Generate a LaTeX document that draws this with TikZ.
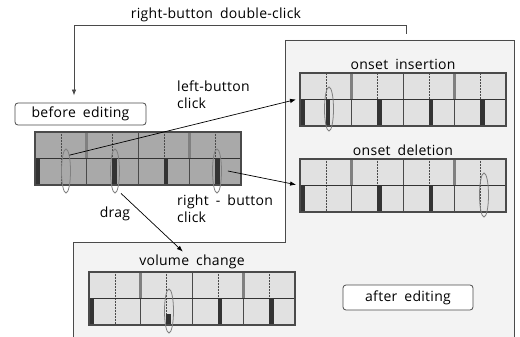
\documentclass[tikz,border=0pt]{standalone}
\usepackage{fontspec}
\setmainfont{Open Sans}[WordSpace=1.8,LetterSpace=2]
\usetikzlibrary{positioning,shapes.geometric,arrows.meta}

\definecolor{afterbg}{HTML}{F3F3F3}
\definecolor{cellold}{HTML}{A9A9A9}
\definecolor{cellnew}{HTML}{E1E1E1}
\definecolor{edge}{HTML}{4A4A4A}

\tikzset{
  lbl/.style={font=\fontsize{14}{17}\selectfont, inner sep=1pt},
  tag/.style={lbl, draw=edge, fill=white, rounded corners=3pt, line width=0.8pt},
  strip/.style={minimum width=206pt, minimum height=53pt, inner sep=0pt, outer sep=0pt, anchor=north west},
  ring/.style={ellipse, draw=gray, line width=0.8pt, minimum width=9pt, minimum height=44pt, inner sep=0pt},
  arr/.style={-{Latex[length=6pt,width=4.5pt]}, line width=0.7pt},
}

% one strip of eight cells, #4 = onset/height list
\newcommand{\beatstrip}[4]{
  \node[strip, fill=#3] (#1) at (#2) {};
  \begin{scope}[shift={(#1.north west)}]
    \foreach \k in {1,3,5,7}
      \draw[edge, densely dotted, line width=0.5pt] (\k*25.75,0) -- (\k*25.75,53);
    \foreach \k in {2,6}
      \fill[gray] (\k*25.75-1.8,0) rectangle (\k*25.75+1.8,26.5);
    \foreach \k in {2,4,6}
      \draw[edge, line width=0.6pt] (\k*25.75,26.5) -- (\k*25.75,53);
    \draw[edge, line width=0.6pt] (4*25.75,0) -- (4*25.75,26.5);
    \draw[black!80, line width=0.8pt] (0,26.5) -- (206,26.5);
    \foreach \k/\h in {#4}
      \fill[black!80] (\k*25.75,53-\h*26.5) rectangle (\k*25.75+4.5,53);
    \draw[edge, line width=1.4pt] (0,0) rectangle (206,53);
  \end{scope}
}

\begin{document}
\begin{tikzpicture}[x=1pt, y=-1pt]
\useasboundingbox (0,0) rectangle (520,337);

% after editing area
\fill[afterbg] (285,40) -- (514,40) -- (514,340) -- (73,340) -- (73,242) -- (285,242) -- cycle;
\draw[edge, line width=0.8pt] (73,340) -- (73,242) -- (285,242) -- (285,40) -- (514,40) -- (514,340);

\beatstrip{before}{35,132}{cellold}{0/1,3/1,5/1,7/1}
\beatstrip{ins}{300,73}{cellnew}{0/1,1/1,3/1,5/1,7/1}
\beatstrip{del}{300,159}{cellnew}{0/1,3/1,5/1}
\beatstrip{vol}{89,272}{cellnew}{0/1,3/0.42,5/1,7/1}

\node[ring] (e1) at (66,171) {};
\node[ring] (e2) at (115,171) {};
\node[ring] (e3) at (217,171) {};
\node[ring] (ei) at (329,109) {};
\node[ring] (ed) at (484,195) {};
\node[ring] (ev) at (169,311) {};

\node[lbl, above=2pt of ins] (insl) {onset insertion};
\node[lbl, above=2pt of del] (dell) {onset deletion};
\node[lbl, above=2pt of vol] (voll) {volume change};
\node[tag, minimum width=131pt, minimum height=22pt] (bed) at (80.5,114) {before editing};
\node[tag, minimum width=130pt, minimum height=25pt] (aed) at (408,297.5) {after editing};

\node[lbl] (dcl) at (216,15) {right-button double-click};
\node[lbl, align=left, anchor=west] (lbc) at (176,95) {left-button\\click};
\node[lbl, align=left, anchor=west] (rbc) at (176,209) {right - button\\click};
\node[lbl] (drg) at (115,214) {drag};

\coordinate (dc) at (406,34);
\coordinate (dctop) at (74,25);
\draw[arr, edge, line width=0.8pt, shorten >=7pt] (dc) |- (dctop) -- (dctop |- bed.north);
\draw[arr] (e1.north east) -- ([xshift=-4pt]ins.west);
\draw[arr, shorten >=4pt] ([xshift=6pt]e3.east) -- (del.west);
\draw[arr, shorten >=3pt] ([xshift=6pt]e2.south) -- ([xshift=-7pt]voll.north);
\end{tikzpicture}
\end{document}
